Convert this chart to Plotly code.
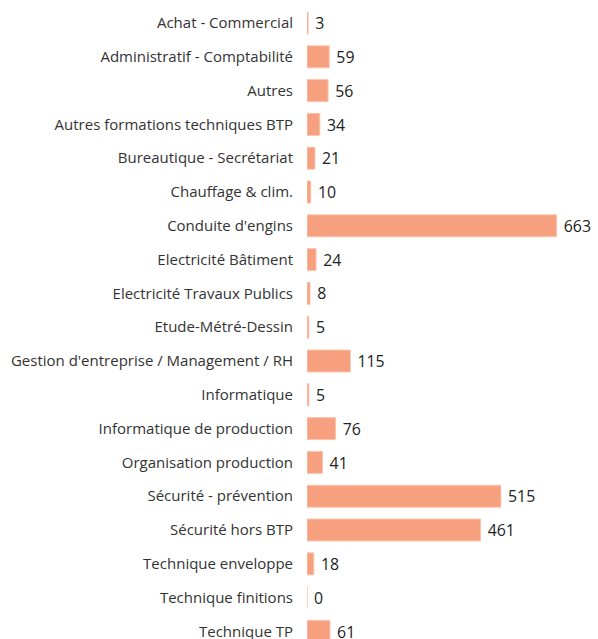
import plotly.graph_objects as go

categories = [
    "Achat - Commercial",
    "Administratif - Comptabilité",
    "Autres",
    "Autres formations techniques BTP",
    "Bureautique - Secrétariat",
    "Chauffage & clim.",
    "Conduite d'engins",
    "Electricité Bâtiment",
    "Electricité Travaux Publics",
    "Etude-Métré-Dessin",
    "Gestion d'entreprise / Management / RH",
    "Informatique",
    "Informatique de production",
    "Organisation production",
    "Sécurité - prévention",
    "Sécurité hors BTP",
    "Technique enveloppe",
    "Technique finitions",
    "Technique TP",
]
values = [3, 59, 56, 34, 21, 10, 663, 24, 8, 5, 115, 5, 76, 41, 515, 461, 18, 0, 61]

W, H = 598, 660
left = 307
px_per_unit = 0.3765
xmax = (W - left) / px_per_unit
row = 33.8
top_center = 23
idx = list(range(len(categories)))

fig = go.Figure(go.Bar(
    y=idx,
    x=values,
    orientation="h",
    marker=dict(color="#F6A07F", line=dict(color="#FBC3AC", width=1)),
    text=[str(v) for v in values],
    textposition="outside",
    texttemplate=" %{text}",
    textfont=dict(family="Open Sans", size=19.5, color="#222222"),
    cliponaxis=False,
    width=0.65,
    hoverinfo="skip",
))

fig.update_layout(
    width=W, height=H,
    margin=dict(l=left, r=0, t=0, b=0, autoexpand=False),
    paper_bgcolor="white", plot_bgcolor="white",
    showlegend=False,
    font=dict(family="Open Sans", color="#333333"),
    xaxis=dict(range=[0, xmax], visible=False, showgrid=False, zeroline=False, automargin=False),
    yaxis=dict(
        range=[(H - top_center) / row, -top_center / row],
        tickmode="array", tickvals=idx, ticktext=categories,
        tickfont=dict(family="Open Sans", size=15, color="#333333"),
        showgrid=False, zeroline=False, showline=False, automargin=False,
        ticks="outside", ticklen=10, tickcolor="rgba(0,0,0,0)",
    ),
)

fig.write_html("out.html", config={"displayModeBar": False})

# remove the default page margin and hide scrollbars so the chart sits at the top-left corner
with open("out.html", encoding="utf-8") as f:
    html = f.read()
html = html.replace("<body>", '<body style="margin:0;overflow:hidden">', 1)
with open("out.html", "w", encoding="utf-8") as f:
    f.write(html)
